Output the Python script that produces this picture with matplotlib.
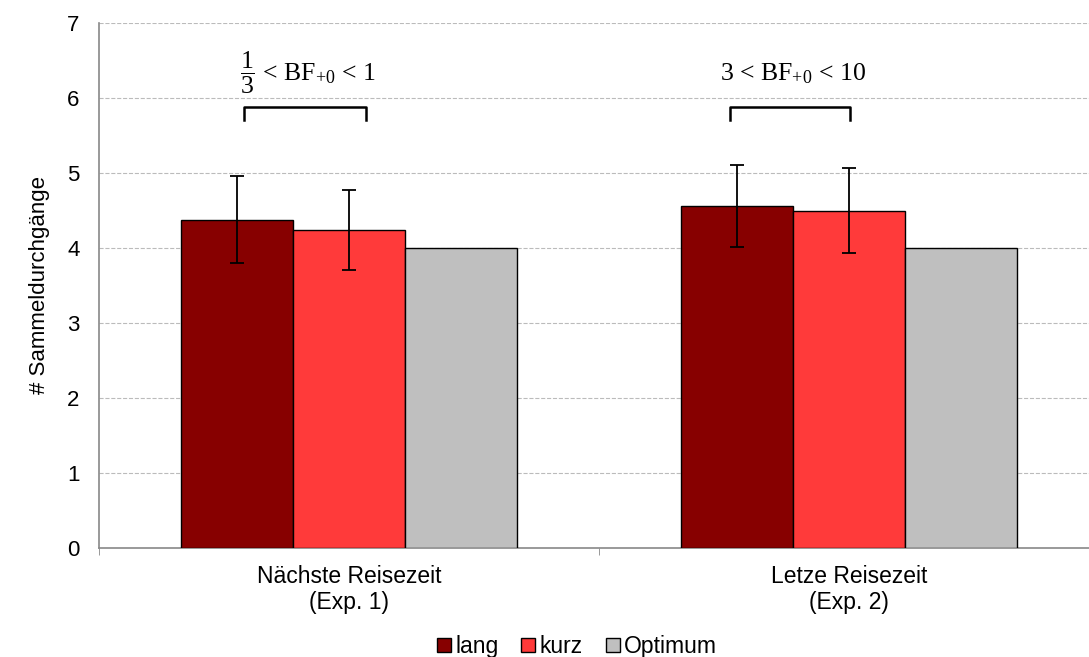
import matplotlib.pyplot as plt
import numpy as np

plt.rcParams['font.family'] = ['Liberation Sans', 'DejaVu Sans']
plt.rcParams['mathtext.fontset'] = 'custom'
plt.rcParams['mathtext.rm'] = 'Liberation Serif'
plt.rcParams['mathtext.it'] = 'Liberation Serif:italic'

categories = ['Nächste Reisezeit\n(Exp. 1)', 'Letze Reisezeit\n(Exp. 2)']
series = ['lang', 'kurz', 'Optimum']
lang = [4.38, 4.56]
lang_err = [0.58, 0.55]
kurz = [4.24, 4.50]
kurz_err = [0.53, 0.56]
optimum = [4.0, 4.0]
bf_labels = [r'$\dfrac{1}{3}$ < BF$_{+0}$ < 1', r'3 < BF$_{+0}$ < 10']
bracket_start = [-0.21, -0.238]
bracket_end = [0.034, 0.002]
colors = ['#870000', '#FF3A3A', '#BFBFBF']

fig = plt.figure(figsize=(10.89, 6.57), dpi=100)
ax = fig.add_axes([99 / 1089, 1 - 548 / 657, 1000 / 1089, 525 / 657])

x = np.arange(len(categories))
w = 0.224
err_kw = dict(ecolor='black', elinewidth=1.3, capsize=5, capthick=1.3)
ax.bar(x - w, lang, w, yerr=lang_err, color=colors[0], edgecolor='black',
       linewidth=1, label=series[0], error_kw=err_kw, zorder=3)
ax.bar(x, kurz, w, yerr=kurz_err, color=colors[1], edgecolor='black',
       linewidth=1, label=series[1], error_kw=err_kw, zorder=3)
ax.bar(x + w, optimum, w, color=colors[2], edgecolor='black',
       linewidth=1, label=series[2], zorder=3)

# brackets with Bayes factor text
for xi, s, e, txt in zip(x, bracket_start, bracket_end, bf_labels):
    x0, x1 = xi + s, xi + e
    y0, y1 = 5.71, 5.88
    ax.plot([x0, x0, x1, x1], [y0, y1, y1, y0], color='black', lw=1.8, zorder=4)
    ax.text((x0 + x1) / 2 + 0.005, 6.33, txt, ha='center', va='center', fontsize=18.5,
            family='Liberation Serif')

ax.set_xlim(-0.5, 1.5)
ax.set_ylim(0, 7)
ax.set_yticks(range(8))
ax.set_xticks(x)
ax.set_xticklabels(categories, fontsize=16.5)
ax.set_xticks([-0.5, 0.5, 1.5], minor=True)
ax.tick_params(axis='x', which='major', length=0, pad=12)
ax.tick_params(axis='x', which='minor', length=5, color='#888888')
ax.tick_params(axis='y', labelsize=16, length=0, pad=14)
ax.set_ylabel('# Sammeldurchgänge', fontsize=16, labelpad=12)

ax.grid(axis='y', color='#BBBBBB', linestyle='--', linewidth=0.8, zorder=0)
for s in ['top', 'right']:
    ax.spines[s].set_visible(False)
for s in ['left', 'bottom']:
    ax.spines[s].set_color('#888888')
    ax.spines[s].set_linewidth(1.2)

ax.legend(loc='lower center', bbox_to_anchor=(0.478, -0.24), ncol=3, frameon=False,
          fontsize=16.5, handlelength=0.6, handleheight=0.6, handletextpad=0.2,
          columnspacing=1.0, borderpad=0.2)

fig.savefig('out.png', dpi=100)
